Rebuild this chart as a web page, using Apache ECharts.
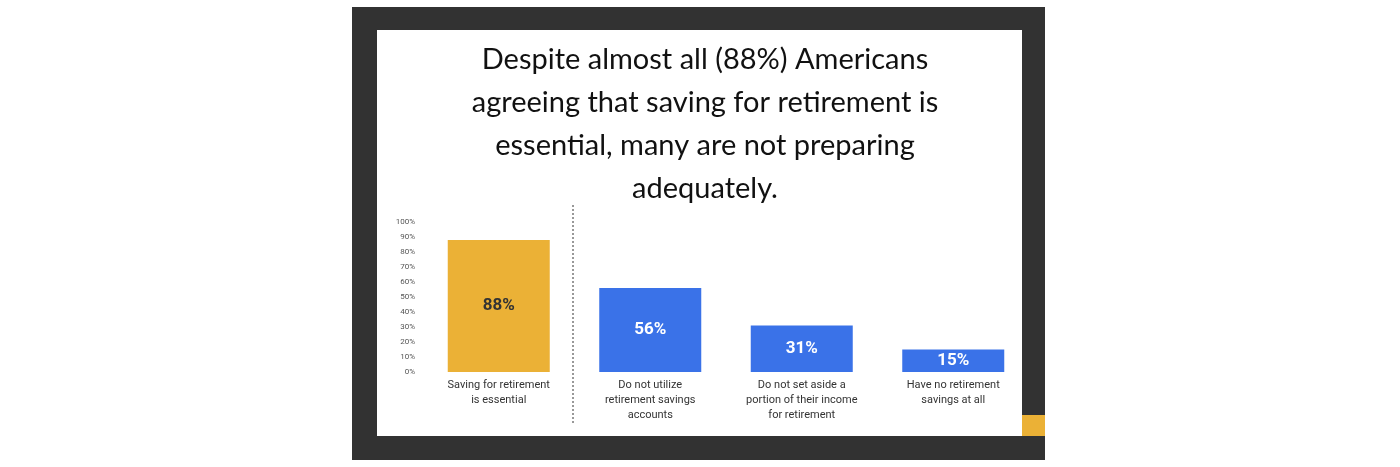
<!DOCTYPE html>
<html><head><meta charset="utf-8">
<script src="https://cdn.jsdelivr.net/npm/echarts@6/dist/echarts.min.js"></script>
<style>html,body{margin:0;padding:0;background:#fff}#c{width:1400px;height:467px}</style>
</head><body><div id="c"></div>
<script>
const categories = ["Saving for retirement\nis essential","Do {u|not} utilize\nretirement savings\naccounts","Do {u|not} set aside a\nportion of their income\nfor retirement","Have no retirement\nsavings at all"];
const values = [88,56,31,15];
const barColors = ["#EBB136","#3A72E8","#3A72E8","#3A72E8"];
const labelColors = ["#333333","#ffffff","#ffffff","#ffffff"];
const titleText = "Despite almost all (88%) Americans\nagreeing that saving for retirement is\nessential, many are not preparing\nadequately.";

const chart = echarts.init(document.getElementById('c'));
chart.setOption({
  animation:false,
  title:{text:titleText,left:700,top:33,textAlign:'center',
    textStyle:{fontFamily:'Lato',fontWeight:'normal',fontSize:29,color:'#111',lineHeight:43}},
  graphic:[
    {type:'rect',z:-10,shape:{x:352,y:7,width:693,height:453},style:{fill:'#323232'}},
    {type:'rect',z:-9,shape:{x:377,y:30,width:645,height:406},style:{fill:'#ffffff'}},
    {type:'rect',z:-9,shape:{x:1022,y:415,width:23,height:21},style:{fill:'#EBB136'}},
    {type:'line',z:5,shape:{x1:573,y1:205,x2:573,y2:423},style:{stroke:'#333',lineWidth:1,lineDash:[2,2]}}
  ],
  grid:{left:423,right:371,top:222,bottom:95},
  xAxis:{type:'category',data:categories,axisLine:{show:false},axisTick:{show:false},
    axisLabel:{interval:0,color:'#333',fontFamily:'Roboto',fontSize:11,lineHeight:15,margin:6,
      rich:{u:{color:'#333',fontFamily:'Roboto',fontSize:11}}}},
  yAxis:{type:'value',min:0,max:100,interval:10,splitLine:{show:false},
    axisLabel:{formatter:'{value}%',color:'#555',fontSize:8,fontFamily:'Roboto',margin:8}},
  series:[{type:'bar',barWidth:102,
    data:values.map((v,i)=>({value:v,itemStyle:{color:barColors[i]},
      label:{show:true,position:'inside',formatter:'{c}%',color:labelColors[i],fontSize:17,fontWeight:'bold',fontFamily:'Roboto'}}))}]
});
</script></body></html>
